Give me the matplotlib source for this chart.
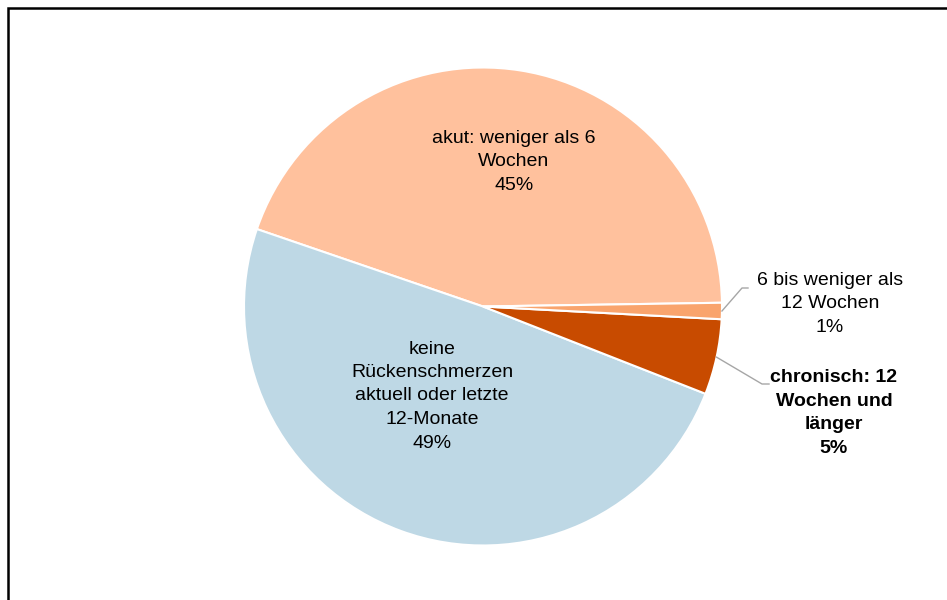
import matplotlib.pyplot as plt
import numpy as np
from matplotlib.patches import Rectangle

plt.rcParams['font.family'] = ['Liberation Sans', 'DejaVu Sans']

# slice data, counterclockwise starting just above 3 o'clock
labels = ['akut: weniger als 6\nWochen', 'keine\nRückenschmerzen\naktuell oder letzte\n12-Monate',
          'chronisch: 12\nWochen und\nlänger', '6 bis weniger als\n12 Wochen']
values = [44.5, 49.3, 5.1, 1.1]
pct_labels = ['45%', '49%', '5%', '1%']
colors = ['#FFC19D', '#BED8E5', '#C84B00', '#F9A46D']

W, H = 947, 600
fig = plt.figure(figsize=(W / 100, H / 100), dpi=100)
ax = fig.add_axes([0, 0, 1, 1])

cx, cy, r = 483, H - 306.5, 239
wedges, _ = ax.pie(values, colors=colors, startangle=0.9, counterclock=True,
                   center=(cx, cy), radius=r, frame=True,
                   wedgeprops=dict(edgecolor='white', linewidth=1.5))
ax.set_xlim(0, W)
ax.set_ylim(0, H)
ax.set_aspect('equal')
ax.axis('off')

# outer frame (runs off the right and bottom edges)
ax.add_patch(Rectangle((7.8, -20), W + 40, H - 7.8 + 20, fill=False,
                       edgecolor='black', linewidth=1.8, clip_on=False))

fs = 14
ls = 1.5
ax.text(514, H - 162, labels[0] + '\n' + pct_labels[0], ha='center', va='center', fontsize=fs, linespacing=ls)
ax.text(432, H - 396, labels[1] + '\n' + pct_labels[1], ha='center', va='center', fontsize=fs, linespacing=ls)
ax.text(834, H - 413, labels[2] + '\n' + pct_labels[2], ha='center', va='center', fontsize=fs,
        fontweight='bold', linespacing=ls)
ax.text(830, H - 304, labels[3] + '\n' + pct_labels[3], ha='center', va='center', fontsize=fs, linespacing=ls)

# leader lines from the small slices to their labels
def edge_point(w, frac=1.0):
    ang = np.deg2rad((w.theta1 + w.theta2) / 2)
    return cx + r * frac * np.cos(ang), cy + r * frac * np.sin(ang)

x0, y0 = edge_point(wedges[3])
ax.plot([x0, 742, 748], [y0, H - 288, H - 288], color='#A6A6A6', linewidth=1)
x0, y0 = edge_point(wedges[2])
ax.plot([x0, 762, 769], [y0, H - 384, H - 384], color='#A6A6A6', linewidth=1)

fig.savefig('out.png', dpi=100)
